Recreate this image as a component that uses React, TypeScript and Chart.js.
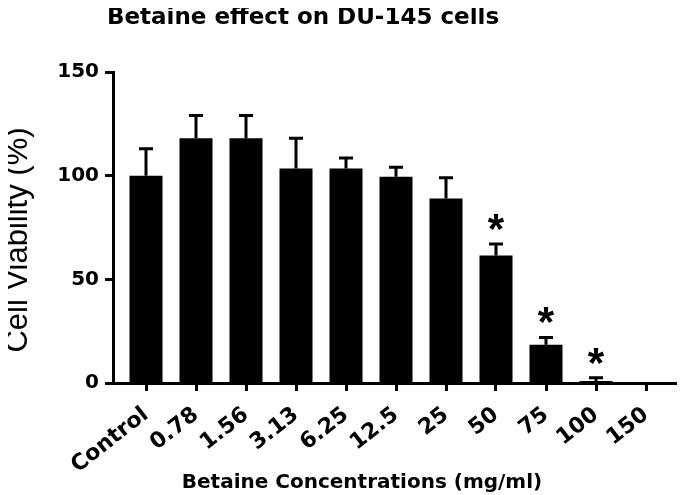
import React, { useEffect, useRef } from "react";
import { Chart, registerables } from "chart.js";

Chart.register(...registerables);

const chartTitle = "Betaine effect on DU-145 cells";
const xAxisTitle = "Betaine Concentrations (mg/ml)";
const yAxisTitle = "Cell Viability (%)";
const categories = ["Control", "0.78", "1.56", "3.13", "6.25", "12.5", "25", "50", "75", "100", "150"];
const viability = [100, 118, 118, 103.5, 103.5, 99.5, 89, 61.5, 18.5, 1, 0];
const sem = [13, 11, 11, 14.5, 5, 4.5, 10, 5.5, 3.5, 1.5, 0];
const significance = ["", "", "", "", "", "", "", "*", "*", "*", ""];
const yTicks = [0, 50, 100, 150];

const errorBarPlugin = {
  id: "errorBars",
  afterDatasetsDraw(chart: any) {
    const ctx = chart.ctx;
    const meta = chart.getDatasetMeta(0);
    const yScale = chart.scales.y;
    ctx.save();
    ctx.strokeStyle = "#000";
    ctx.fillStyle = "#000";
    ctx.lineWidth = 3;
    meta.data.forEach((bar: any, i: number) => {
      const x = bar.x;
      const base = bar.y;
      let top = base;
      if (sem[i] > 0) {
        top = yScale.getPixelForValue(viability[i] + sem[i]);
        ctx.beginPath();
        ctx.moveTo(x, base);
        ctx.lineTo(x, top);
        ctx.moveTo(x - 7, top);
        ctx.lineTo(x + 7, top);
        ctx.stroke();
      }
      if (significance[i]) {
        ctx.font = 'bold 42px "Liberation Sans", Arial, sans-serif';
        ctx.textAlign = "center";
        ctx.textBaseline = "alphabetic";
        ctx.fillText(significance[i], x, top - 1);
      }
    });
    ctx.restore();
  },
};

const textPlugin = {
  id: "texts",
  afterDraw(chart: any) {
    const ctx = chart.ctx;
    ctx.save();
    ctx.fillStyle = "#000";
    ctx.textAlign = "center";
    ctx.textBaseline = "alphabetic";
    ctx.font = 'bold 23px "DejaVu Sans", sans-serif';
    ctx.fillText(chartTitle, 303, 24);
    ctx.font = 'bold 20px "DejaVu Sans", sans-serif';
    ctx.fillText(xAxisTitle, 362, 488);
    ctx.translate(18, 240);
    ctx.rotate(-Math.PI / 2);
    ctx.textBaseline = "middle";
    ctx.font = '31px "Liberation Sans", Arial, sans-serif';
    ctx.fillText(yAxisTitle, 0, 0);
    ctx.restore();
  },
};

export default function App() {
  const ref = useRef<HTMLCanvasElement | null>(null);

  useEffect(() => {
    if (!ref.current) return;
    const chart = new Chart(ref.current, {
      type: "bar",
      data: {
        datasets: [
          {
            data: categories.map((_, i) => ({ x: i, y: viability[i] })),
            backgroundColor: "#000",
            borderColor: "#000",
            borderWidth: 0,
            barPercentage: 0.66,
            categoryPercentage: 1,
          },
        ],
      },
      options: {
        animation: false,
        responsive: false,
        maintainAspectRatio: false,
        layout: { padding: { top: 72, right: 3, left: 0, bottom: 0 } },
        plugins: {
          legend: { display: false },
          tooltip: { enabled: false },
          title: { display: false },
        },
        scales: {
          x: {
            type: "linear",
            offset: false,
            min: -0.66,
            max: 10.72,
            afterBuildTicks: (s: any) => {
              s.ticks = categories.map((_, i) => ({ value: i }));
            },
            afterFit: (s: any) => {
              s.height = 112;
            },
            grid: {
              display: true,
              offset: false,
              drawOnChartArea: false,
              drawTicks: true,
              tickLength: 8,
              tickWidth: 3,
              tickColor: "#000",
            },
            border: { display: true, color: "#000", width: 3 },
            ticks: {
              autoSkip: false,
              minRotation: 38,
              maxRotation: 38,
              padding: 11,
              color: "#000",
              font: { family: '"DejaVu Sans", sans-serif', size: 22, weight: "bold" },
              callback: (v: any) => categories[Math.round(Number(v))] ?? "",
            },
          },
          y: {
            type: "linear",
            min: 0,
            max: 150,
            afterBuildTicks: (s: any) => {
              s.ticks = yTicks.map((v) => ({ value: v }));
            },
            afterFit: (s: any) => {
              s.width = 113;
            },
            grid: {
              display: true,
              drawOnChartArea: false,
              drawTicks: true,
              tickLength: 8,
              tickWidth: 3,
              tickColor: "#000",
            },
            border: { display: true, color: "#000", width: 3 },
            ticks: {
              padding: 6,
              color: "#000",
              font: { family: '"DejaVu Sans", sans-serif', size: 20, weight: "bold" },
            },
            title: { display: false, text: yAxisTitle },
          },
        },
      },
      plugins: [errorBarPlugin, textPlugin],
    });
    return () => chart.destroy();
  }, []);

  return (
    <div style={{ position: "relative", width: 685, height: 495, margin: "-8px 0 0 -8px", background: "#fff" }}>
      <canvas ref={ref} width={685} height={495} style={{ display: "block", width: 685, height: 495 }} />
    </div>
  );
}
